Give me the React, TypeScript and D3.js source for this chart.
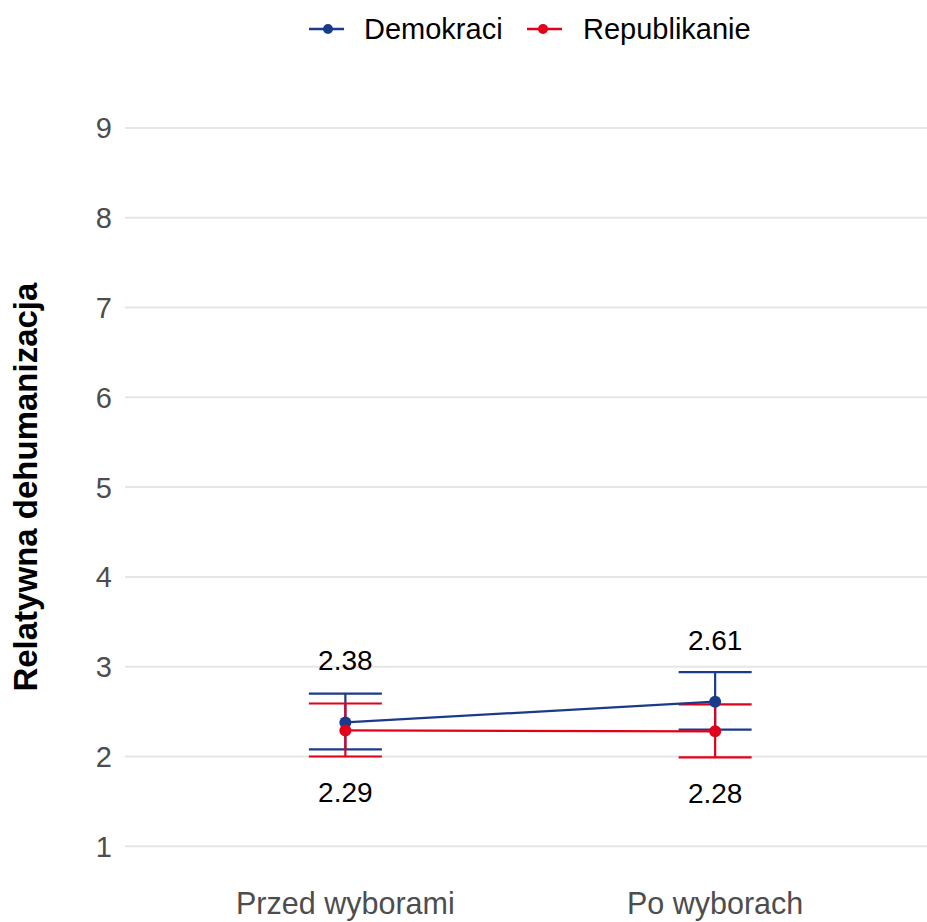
import React from "react";
import * as d3 from "d3";

const categories = ["Przed wyborami", "Po wyborach"];
const seriesNames = ["Demokraci", "Republikanie"];
const demMeans = [2.38, 2.61];
const demLower = [2.08, 2.3];
const demUpper = [2.7, 2.94];
const repMeans = [2.29, 2.28];
const repLower = [2.0, 1.99];
const repUpper = [2.59, 2.58];
const yTicks = [1, 2, 3, 4, 5, 6, 7, 8, 9];
const yTitle = "Relatywna dehumanizacja";

const W = 927;
const H = 922;
const FONT = "'Liberation Sans', Arial, Helvetica, sans-serif";
const BLUE = "#1A3A8A";
const RED = "#E2001A";

export default function App() {
  const x = d3.scalePoint<string>().domain(categories).range([123.5, 937]).padding(0.6);
  const y = d3.scaleLinear().domain([2, 3]).range([756.5, 666.7]);

  const series = [
    { name: seriesNames[0], color: BLUE, means: demMeans, lo: demLower, hi: demUpper, nudge: 0.58 },
    { name: seriesNames[1], color: RED, means: repMeans, lo: repLower, hi: repUpper, nudge: -0.8 },
  ];
  const capHalf = 36.5;
  const line = d3
    .line<[string, number]>()
    .x((d) => x(d[0]) as number)
    .y((d) => y(d[1]));

  return (
    <svg
      width={W}
      height={H}
      style={{ position: "absolute", left: 0, top: 0, background: "#fff" }}
      fontFamily={FONT}
    >
      {yTicks.map((t) => (
        <line key={"g" + t} x1={125} x2={W} y1={y(t)} y2={y(t)} stroke="#E6E6E6" strokeWidth={2} />
      ))}
      {yTicks.map((t) => (
        <text
          key={"t" + t}
          x={112}
          y={y(t)}
          dy="0.36em"
          textAnchor="end"
          fontSize={29}
          fill="#4D4D4D"
        >
          {t}
        </text>
      ))}
      <text
        transform={`translate(37, ${(y(1) + y(9)) / 2}) rotate(-90)`}
        textAnchor="middle"
        fontSize={33}
        fontWeight="bold"
        fill="#000"
      >
        {yTitle}
      </text>
      {categories.map((c) => (
        <text key={c} x={x(c)} y={914} textAnchor="middle" fontSize={30.5} fill="#4D4D4D">
          {c}
        </text>
      ))}
      {series.map((s) =>
        categories.map((c, i) => {
          const cx = x(c) as number;
          return (
            <g key={s.name + c} stroke={s.color} strokeWidth={2.2}>
              <line x1={cx} x2={cx} y1={y(s.lo[i])} y2={y(s.hi[i])} />
              <line x1={cx - capHalf} x2={cx + capHalf} y1={y(s.lo[i])} y2={y(s.lo[i])} />
              <line x1={cx - capHalf} x2={cx + capHalf} y1={y(s.hi[i])} y2={y(s.hi[i])} />
            </g>
          );
        })
      )}
      {series.map((s) => (
        <path
          key={"l" + s.name}
          d={line(categories.map((c, i) => [c, s.means[i]] as [string, number])) || ""}
          fill="none"
          stroke={s.color}
          strokeWidth={2.2}
        />
      ))}
      {series.map((s) =>
        categories.map((c, i) => (
          <circle key={"p" + s.name + c} cx={x(c)} cy={y(s.means[i])} r={6} fill={s.color} />
        ))
      )}
      {series.map((s) =>
        categories.map((c, i) => (
          <text
            key={"v" + s.name + c}
            x={x(c)}
            y={y(s.means[i] + s.nudge)}
            textAnchor="middle"
            fontSize={28}
            fill="#000"
          >
            {s.means[i].toFixed(2)}
          </text>
        ))
      )}
      <g>
        <line x1={309} x2={344} y1={29} y2={29} stroke={BLUE} strokeWidth={2.5} />
        <circle cx={328} cy={29} r={5} fill={BLUE} />
        <text x={364} y={39} fontSize={29} fill="#000">
          {seriesNames[0]}
        </text>
        <line x1={527} x2={562} y1={29} y2={29} stroke={RED} strokeWidth={2.5} />
        <circle cx={543} cy={29} r={5} fill={RED} />
        <text x={583} y={39} fontSize={29} fill="#000">
          {seriesNames[1]}
        </text>
      </g>
    </svg>
  );
}
